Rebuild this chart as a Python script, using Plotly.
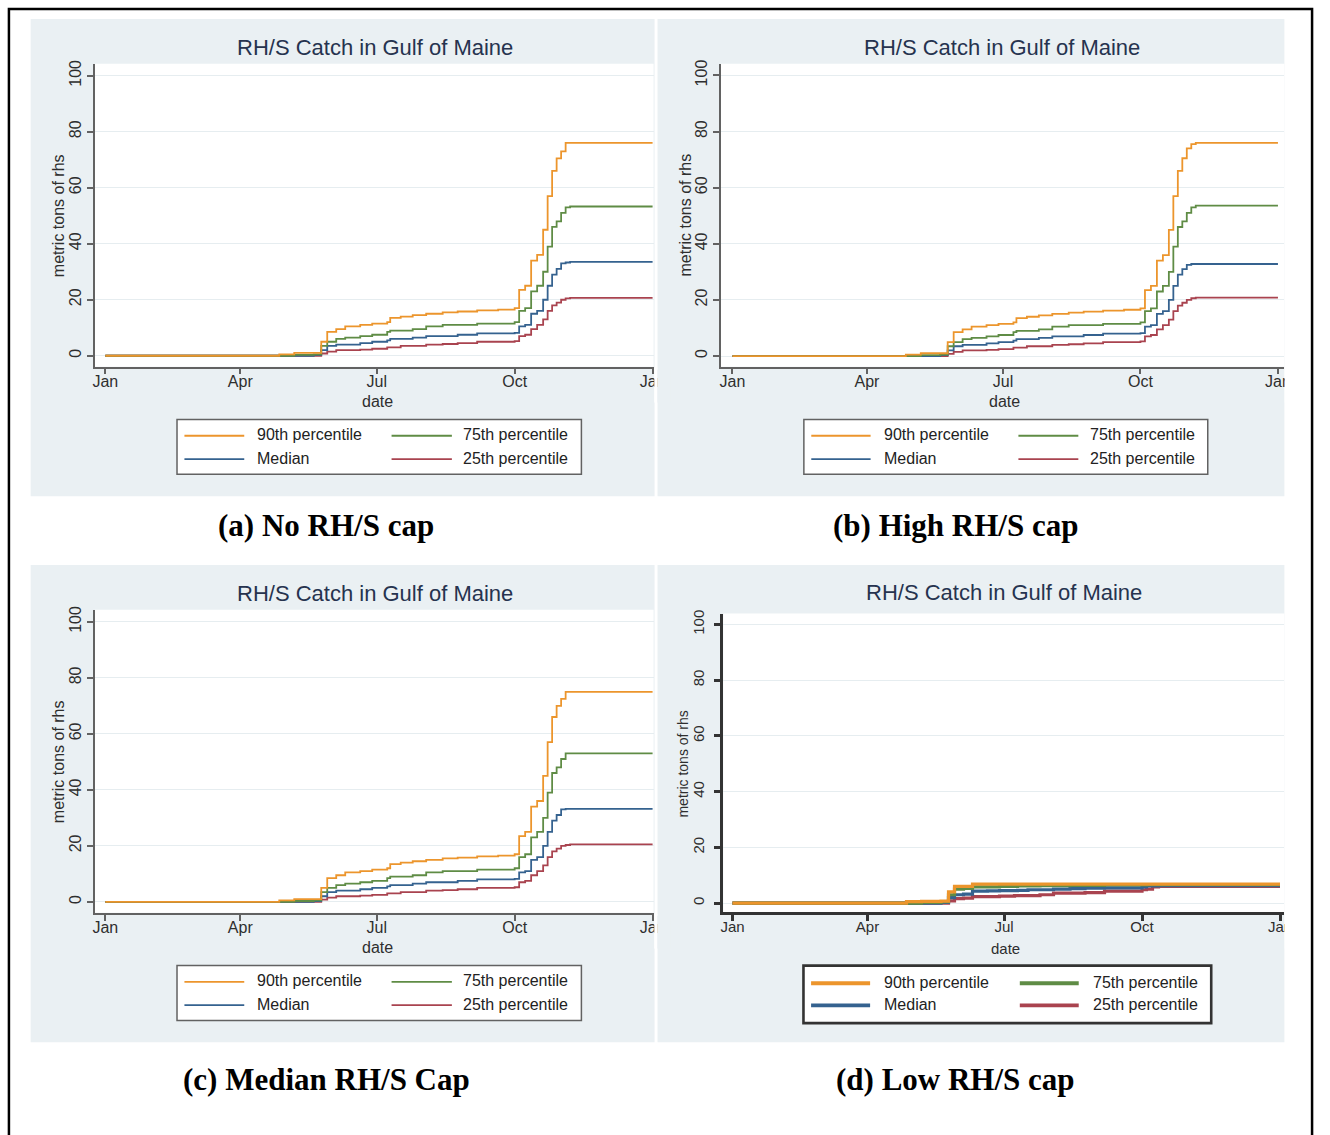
import plotly.graph_objects as go
from datetime import datetime, timedelta

# ---------------------------------------------------------------- data
step_dates = ["2013-01-01", "2013-04-27", "2013-05-07", "2013-05-20", "2013-05-25",
              "2013-05-29", "2013-06-04", "2013-06-10", "2013-06-20", "2013-06-28",
              "2013-07-08", "2013-07-10", "2013-07-17", "2013-07-25", "2013-08-03",
              "2013-08-14", "2013-08-24", "2013-09-06", "2013-09-20", "2013-10-01",
              "2013-10-04", "2013-10-08", "2013-10-12", "2013-10-16", "2013-10-20",
              "2013-10-23", "2013-10-26", "2013-10-29", "2013-11-01", "2013-11-04",
              "2013-11-07", "2014-01-01"]

# (a) No RH/S cap
a_p90 = [0, 0.5, 1, 1, 5, 8.5, 9.5, 10.5, 11, 11.5, 12, 13.5, 14, 14.5, 15, 15.5,
         15.8, 16.2, 16.5, 17, 23.5, 25, 34, 36, 45, 57, 66, 70.5, 73, 76, 76, 76]
a_p75 = [0, 0, 0.3, 0.5, 3.5, 5, 6, 6.5, 7, 7.5, 8.5, 9, 9, 9.5, 10.5, 11,
         11, 11.5, 11.5, 12, 16, 17, 23, 25, 30, 39, 46, 48, 51, 53, 53.3, 53.3]
a_med = [0, 0, 0, 0.3, 2, 3.5, 4, 4, 4.5, 5, 5.5, 6, 6, 6.5, 7, 7,
         7.5, 8, 8, 8.2, 10.5, 11, 15, 16, 20, 25, 29, 31, 33, 33.3, 33.5, 33.5]
a_p25 = [0, 0, 0, 0, 0.8, 1.5, 2, 2, 2.2, 2.5, 3, 3, 3.5, 3.5, 4, 4.2,
         4.5, 5, 5, 5.2, 7, 7.5, 9.5, 11, 13, 16, 18, 19, 20, 20.5, 20.7, 20.7]

# (b) High RH/S cap
b_p90 = [0, 0.5, 1, 1, 5, 8.5, 9.5, 10.5, 11, 11.5, 12, 13.5, 14, 14.5, 15, 15.5,
         15.8, 16.2, 16.5, 17, 23.5, 25, 34, 36, 45, 57, 66, 70.5, 74, 75.5, 76, 76]
b_p75 = [0, 0, 0.3, 0.5, 3.5, 5, 6, 6.5, 7, 7.5, 8.5, 9, 9, 9.5, 10.5, 11,
         11, 11.5, 11.5, 12, 16, 17, 23, 25, 30, 39, 46, 48, 51, 53, 53.6, 53.6]
b_med = [0, 0, 0, 0.3, 2, 3.5, 4, 4, 4.5, 5, 5.5, 6, 6, 6.5, 7, 7,
         7.5, 8, 8, 8.2, 10.5, 11, 15, 16, 20, 25, 29, 31, 32.5, 32.8, 32.8, 32.8]
b_p25 = [0, 0, 0, 0, 0.8, 1.5, 2, 2, 2.2, 2.5, 3, 3, 3.5, 3.5, 4, 4.2,
         4.5, 5, 5, 5.2, 7, 7.5, 9.5, 11, 13, 16, 18, 19, 20, 20.6, 20.8, 20.8]

# (c) Median RH/S cap
c_p90 = [0, 0.5, 1, 1, 5, 8.5, 9.5, 10.5, 11, 11.5, 12, 13.5, 14, 14.5, 15, 15.5,
         15.8, 16.2, 16.5, 17, 23.5, 25, 34, 36, 45, 57, 66, 70, 72.5, 75, 75, 75]
c_p75 = [0, 0, 0.3, 0.5, 3.5, 5, 6, 6.5, 7, 7.5, 8.5, 9, 9, 9.5, 10.5, 11,
         11, 11.5, 11.5, 12, 16, 17, 23, 25, 30, 39, 46, 48, 51, 53, 53, 53]
c_med = [0, 0, 0, 0.3, 2, 3.5, 4, 4, 4.5, 5, 5.5, 6, 6, 6.5, 7, 7,
         7.5, 8, 8, 8.2, 10.5, 11, 15, 16, 20, 25, 29, 31, 33, 33.2, 33.2, 33.2]
c_p25 = [0, 0, 0, 0, 0.8, 1.5, 2, 2, 2.2, 2.5, 3, 3, 3.5, 3.5, 4, 4.2,
         4.5, 5, 5, 5.2, 7, 7.5, 9.5, 11, 13, 16, 18, 19, 20, 20.3, 20.5, 20.5]

# (d) Low RH/S cap
d_p90 = [0, 0.5, 0.6, 0.7, 4, 6, 6, 6.8, 6.8, 6.8, 6.8, 6.8, 6.8, 6.8, 6.8, 6.8,
         6.8, 6.8, 6.8, 6.8, 6.8, 6.8, 6.8, 6.8, 6.8, 6.8, 6.8, 6.8, 6.8, 6.8, 6.8, 6.8]
d_p75 = [0, 0, 0.3, 0.5, 3, 5, 5.3, 5.8, 5.8, 6, 6, 6.2, 6.2, 6.3, 6.3, 6.4,
         6.4, 6.5, 6.5, 6.5, 6.6, 6.6, 6.6, 6.6, 6.6, 6.6, 6.6, 6.6, 6.6, 6.6, 6.6, 6.6]
d_med = [0, 0, 0, 0.3, 2, 3, 3.2, 4.3, 4.4, 4.5, 4.5, 4.6, 4.8, 4.8, 5, 5.2,
         5.4, 5.5, 5.5, 5.8, 6.2, 6.2, 6.3, 6.3, 6.3, 6.3, 6.3, 6.3, 6.3, 6.3, 6.3, 6.3]
d_p25 = [0, 0, 0, 0, 0.8, 1.6, 1.8, 2.3, 2.3, 2.5, 2.7, 2.7, 2.7, 3, 3.6, 3.6,
         3.8, 4.3, 4.3, 4.8, 5, 5.8, 6, 6, 6, 6, 6, 6, 6, 6, 6, 6]

series_names = ["90th percentile", "75th percentile", "Median", "25th percentile"]
series_colors = ["#ec952c", "#5f8c45", "#35628f", "#a9434f"]

month_ticks = ["2013-01-01", "2013-04-01", "2013-07-01", "2013-10-01", "2014-01-01"]
month_labels = ["Jan", "Apr", "Jul", "Oct", "Jan"]
y_ticks = [0, 20, 40, 60, 80, 100]

chart_title = "RH/S Catch in Gulf of Maine"
x_title = "date"
y_title = "metric tons of rhs"
captions = ["(a) No RH/S cap", "(b) High RH/S cap", "(c) Median RH/S Cap", "(d) Low RH/S cap"]

panel_series = [
    (a_p90, a_p75, a_med, a_p25),
    (b_p90, b_p75, b_med, b_p25),
    (c_p90, c_p75, c_med, c_p25),
    (d_p90, d_p75, d_med, d_p25),
]

# ---------------------------------------------------------------- geometry (pixels)
W, H = 1330, 1135
BG = "#eaf0f3"

panels = [
    dict(bg=(28, 15, 659, 494), plot=(93, 60, 658, 364), jan=(103.5, 657.0), yv=(353.0, 72.0),
         title=(376, 43.5), ytl=(55.5, 212), xtl=(379, 399), cap=(327, 523),
         leg=(176, 417, 585, 472), legrows=(432.3, 455.7), legcols=(7.5, 68, 79, 217, 278, 287.5),
         lw=1.8, axw=1.5, axc="#626262", tstand=0, fs=16, yfs=16, wide=False),
    dict(bg=(662, 15, 1296, 494), plot=(726, 60, 1296, 364), jan=(737.8, 1289.5), yv=(353.3, 71.7),
         title=(1010, 43.5), ytl=(690, 212), xtl=(1012.6, 399), cap=(963, 523),
         leg=(810, 417, 1218.5, 472), legrows=(432.3, 455.7), legcols=(7.5, 67.5, 79, 217, 277.6, 287.2),
         lw=1.8, axw=1.5, axc="#626262", tstand=0, fs=16, yfs=16, wide=False),
    dict(bg=(28, 563, 659, 1042), plot=(93, 608, 658, 912), jan=(103.5, 657.0), yv=(901.0, 620.0),
         title=(376, 591.5), ytl=(55.5, 760), xtl=(379, 947), cap=(327, 1079),
         leg=(176, 965, 585, 1020), legrows=(980.3, 1003.7), legcols=(7.5, 68, 79, 217, 278, 287.5),
         lw=1.8, axw=1.5, axc="#626262", tstand=0, fs=16, yfs=16, wide=False),
    dict(bg=(662, 563, 1296, 1042), plot=(728.5, 611.7, 1296, 911.7), jan=(737.8, 1291.6), yv=(902.3, 622.7),
         title=(1012.6, 591), ytl=(688, 763), xtl=(1013.8, 947.5), cap=(963, 1079),
         leg=(809.6, 965, 1222, 1022.7), legrows=(981.7, 1004), legcols=(7.7, 67.4, 79, 218.8, 278.4, 290.4),
         lw=3.2, axw=2.6, axc="#333333", tstand=4, fs=15, yfs=14, wide=True),
]


def fx(px):
    return px / W


def fy(py):
    return 1 - py / H


def day_str(days):
    t = datetime(2013, 1, 1) + timedelta(days=days)
    return t.strftime("%Y-%m-%d %H:%M:%S")


fig = go.Figure()
shapes = []
annotations = []
layout_axes = {}

for i, (p, vals) in enumerate(zip(panels, panel_series)):
    n = i + 1
    xs = "" if n == 1 else str(n)
    bx0, by0, bx1, by1 = p["bg"]
    px0, py0, px1, py1 = p["plot"]

    # panel background and white plot area
    shapes.append(dict(type="rect", xref="paper", yref="paper", layer="below",
                       x0=fx(bx0), x1=fx(bx1), y0=fy(by1), y1=fy(by0),
                       fillcolor=BG, line=dict(width=0)))
    shapes.append(dict(type="rect", xref="paper", yref="paper", layer="below",
                       x0=fx(px0), x1=fx(px1), y0=fy(py1), y1=fy(py0),
                       fillcolor="white", line=dict(width=0)))

    # axis ranges from the pixel calibration
    j0, j1 = p["jan"]
    dpp = 365.0 / (j1 - j0)
    xr = [day_str((px0 - j0) * dpp), day_str((px1 - j0) * dpp)]
    y0v, y100v = p["yv"]
    upp = 100.0 / (y0v - y100v)
    yr = [(y0v - py1) * upp, (y0v - py0) * upp]

    tickfont = dict(family="Liberation Sans, Arial, sans-serif", size=p["fs"], color="#2e2e2e")
    layout_axes["xaxis" + xs] = dict(
        domain=[fx(px0), fx(px1)], anchor="y" + xs, range=xr, type="date",
        tickmode="array", tickvals=month_ticks, ticktext=month_labels,
        showgrid=False, zeroline=False, showline=True, linecolor=p["axc"], linewidth=p["axw"],
        ticks="outside", ticklen=6, tickwidth=p["axw"], tickcolor=p["axc"], tickfont=tickfont,
        ticklabelstandoff=-7, fixedrange=True)
    layout_axes["yaxis" + xs] = dict(
        domain=[fy(py1), fy(py0)], anchor="x" + xs, range=yr,
        tickmode="array", tickvals=y_ticks, tickangle=-90,
        showgrid=True, gridcolor="#e6edf0", gridwidth=1, zeroline=False,
        showline=True, linecolor=p["axc"], linewidth=p["axw"],
        ticks="outside", ticklen=6, tickwidth=p["axw"], tickcolor=p["axc"], tickfont=tickfont,
        ticklabelstandoff=p["tstand"], fixedrange=True)

    # percentile step lines (90th drawn last so it sits on top)
    for k in [3, 2, 1, 0]:
        fig.add_trace(go.Scatter(
            x=step_dates, y=vals[k], mode="lines", name=series_names[k],
            line=dict(shape="hv", color=series_colors[k], width=p["lw"]),
            xaxis="x" + xs, yaxis="y" + xs, showlegend=False, hoverinfo="skip"))

    # titles
    annotations.append(dict(text=chart_title, xref="paper", yref="paper",
                            x=fx(p["title"][0]), y=fy(p["title"][1]), xanchor="center", yanchor="middle",
                            showarrow=False,
                            font=dict(family="Liberation Sans, Arial, sans-serif", size=22, color="#26334f")))
    annotations.append(dict(text=y_title, xref="paper", yref="paper", textangle=-90,
                            x=fx(p["ytl"][0]), y=fy(p["ytl"][1]), xanchor="center", yanchor="middle",
                            showarrow=False,
                            font=dict(family="Liberation Sans, Arial, sans-serif", size=p["yfs"], color="#2e2e2e")))
    annotations.append(dict(text=x_title, xref="paper", yref="paper",
                            x=fx(p["xtl"][0]), y=fy(p["xtl"][1]), xanchor="center", yanchor="middle",
                            showarrow=False,
                            font=dict(family="Liberation Sans, Arial, sans-serif", size=p["fs"], color="#2e2e2e")))
    annotations.append(dict(text="<b>" + captions[i] + "</b>", xref="paper", yref="paper",
                            x=fx(p["cap"][0]), y=fy(p["cap"][1]), xanchor="center", yanchor="middle",
                            showarrow=False,
                            font=dict(family="Liberation Serif, Times New Roman, serif", size=31, color="#000000")))

    # legend box
    lx0, ly0, lx1, ly1 = p["leg"]
    shapes.append(dict(type="rect", xref="paper", yref="paper", layer="below",
                       x0=fx(lx0), x1=fx(lx1), y0=fy(ly1), y1=fy(ly0),
                       fillcolor="white", line=dict(color=p["axc"], width=p["axw"])))
    c = p["legcols"]
    slots = [(0, 0), (1, 1), (2, 0), (3, 1)]  # (series, column) for rows 0,0,1,1
    for idx, (k, col) in enumerate(slots):
        row_y = p["legrows"][idx // 2]
        l0, l1, tx = (c[0], c[1], c[2]) if col == 0 else (c[3], c[4], c[5])
        shapes.append(dict(type="line", xref="paper", yref="paper", layer="above",
                           x0=fx(lx0 + l0), x1=fx(lx0 + l1), y0=fy(row_y + 1), y1=fy(row_y + 1),
                           line=dict(color=series_colors[k], width=p["lw"] + (0.6 if p["wide"] else 0))))
        annotations.append(dict(text=series_names[k], xref="paper", yref="paper",
                                x=fx(lx0 + tx), y=fy(row_y), xanchor="left", yanchor="middle",
                                showarrow=False,
                                font=dict(family="Liberation Sans, Arial, sans-serif", size=16, color="#222222")))

# trim the last month label where each panel is cut off on the right
for top in (15, 563):
    shapes.append(dict(type="rect", xref="paper", yref="paper", layer="above",
                       x0=fx(658.7), x1=fx(661.8), y0=fy(top + 385), y1=fy(top + 350),
                       fillcolor="white", line=dict(width=0)))
    shapes.append(dict(type="rect", xref="paper", yref="paper", layer="above",
                       x0=fx(661.8), x1=fx(675), y0=fy(top + 385), y1=fy(top + 352),
                       fillcolor=BG, line=dict(width=0)))
    shapes.append(dict(type="rect", xref="paper", yref="paper", layer="above",
                       x0=fx(1296.3), x1=fx(1315), y0=fy(top + 385), y1=fy(top + 352),
                       fillcolor="white", line=dict(width=0)))

# outer frame
shapes.append(dict(type="rect", xref="paper", yref="paper", layer="above",
                   x0=fx(6), x1=fx(1324), y0=fy(1145), y1=fy(5),
                   fillcolor="rgba(0,0,0,0)", line=dict(color="#000000", width=2.5)))

fig.update_layout(
    width=W, height=H, autosize=False,
    margin=dict(l=0, r=0, t=0, b=0, pad=0),
    paper_bgcolor="white", plot_bgcolor="rgba(0,0,0,0)",
    showlegend=False, shapes=shapes, annotations=annotations,
    **layout_axes)

fig.write_html("out.html")
